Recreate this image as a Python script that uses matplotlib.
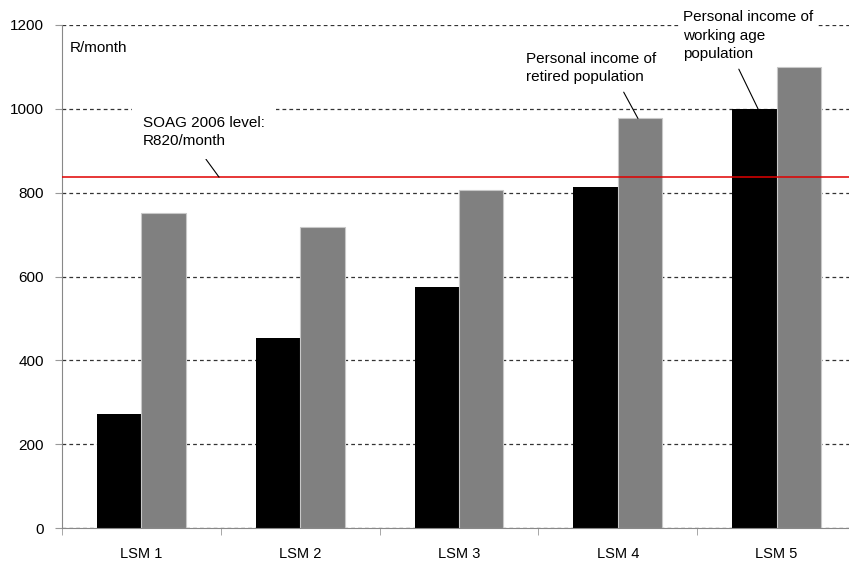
import numpy as np
import matplotlib
matplotlib.use("Agg")
import matplotlib.pyplot as plt

plt.rcParams['font.family'] = ['Liberation Sans', 'DejaVu Sans']

CATEGORIES = ["LSM 1", "LSM 2", "LSM 3", "LSM 4", "LSM 5"]
WORKING_AGE = [272, 453, 574, 814, 1000]
RETIRED = [752, 717, 806, 977, 1100]
SOAG_LEVEL = 837
Y_TICKS = [0, 200, 400, 600, 800, 1000, 1200]

BAR_W = 0.28
FS = 11
LS = 1.4

fig = plt.figure(figsize=(8.49, 5.62), dpi=100)
# right edge runs past the figure edge, as in the reference crop
ax = fig.add_axes([62/849, 34/562, 794/849, 503/562])

x = np.arange(len(CATEGORIES))
ax.bar(x - BAR_W/2, WORKING_AGE, BAR_W, color="black", zorder=2)
ax.bar(x + BAR_W/2, RETIRED, BAR_W, color="#808080", edgecolor="#c8c8c8",
       linewidth=0.8, zorder=2)

ax.axhline(SOAG_LEVEL, color="#e00000", linewidth=1.1, zorder=3)

ax.set_xlim(-0.5, len(CATEGORIES) - 0.5)
ax.set_ylim(0, 1200)
ax.set_yticks(Y_TICKS)
ax.yaxis.grid(True, linestyle=(0, (3, 2.5)), color="#333333", linewidth=0.9)
ax.set_axisbelow(True)

ax.set_xticks(x)
ax.set_xticklabels(CATEGORIES, fontsize=10.5)
ax.set_xticks(np.arange(len(CATEGORIES) + 1) - 0.5, minor=True)
ax.tick_params(axis="x", which="major", length=0, pad=14)
ax.tick_params(axis="x", which="minor", length=5, color="#999999")
ax.tick_params(axis="y", length=5, color="#999999", labelsize=FS, pad=8)

for s in ["top", "right"]:
    ax.spines[s].set_visible(False)
for s in ["left", "bottom"]:
    ax.spines[s].set_color("#888888")

box = dict(facecolor="white", edgecolor="none", pad=3)
ax.text(-0.45, 1145, "R/month", fontsize=FS, ha="left", va="center")
ax.annotate("SOAG 2006 level:\nR820/month", xy=(0.489, SOAG_LEVEL),
            xytext=(0.01, 945), fontsize=FS, ha="left", va="center",
            linespacing=LS,
            bbox=dict(facecolor="white", edgecolor="none", pad=8),
            arrowprops=dict(arrowstyle="-", color="black", lw=0.8,
                            shrinkA=0, shrinkB=0, relpos=(0.45, 0)))
ax.annotate("Personal income of\nretired population", xy=(3.127, RETIRED[3]),
            xytext=(2.42, 1097), fontsize=FS, ha="left", va="center",
            linespacing=LS, bbox=box,
            arrowprops=dict(arrowstyle="-", color="black", lw=0.8,
                            shrinkA=3, shrinkB=0, relpos=(0.72, 0)))
ax.annotate("Personal income of\nworking age\npopulation", xy=(3.883, WORKING_AGE[4]),
            xytext=(3.41, 1174), fontsize=FS, ha="left", va="center",
            linespacing=LS, bbox=box,
            arrowprops=dict(arrowstyle="-", color="black", lw=0.8,
                            shrinkA=3, shrinkB=0, relpos=(0.4, 0)))

fig.savefig("out.png", dpi=100)
